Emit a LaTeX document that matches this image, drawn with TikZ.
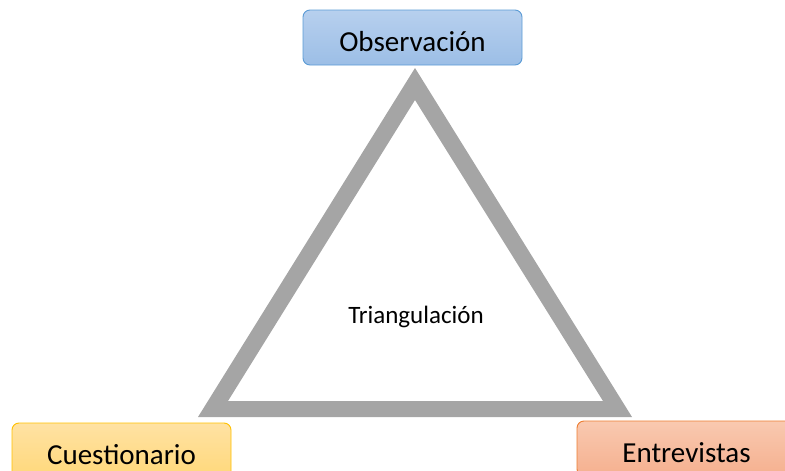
\documentclass[tikz,border=0pt]{standalone}
\usepackage{fontspec}
\setmainfont{Carlito}
\usepackage{tikz}
\usetikzlibrary{positioning}

\definecolor{triGray}{HTML}{A5A5A5}
\definecolor{blueTop}{HTML}{B7D0EE}
\definecolor{blueBot}{HTML}{9CBEE6}
\definecolor{blueLine}{HTML}{5B9BD5}
\definecolor{yellowTop}{HTML}{FFE2A3}
\definecolor{yellowBot}{HTML}{FFD87A}
\definecolor{yellowLine}{HTML}{FFC000}
\definecolor{orangeTop}{HTML}{F9C9B0}
\definecolor{orangeBot}{HTML}{F5B08F}
\definecolor{orangeLine}{HTML}{ED7D31}

\begin{document}
\begin{tikzpicture}[
  x=1pt, y=-1pt,
  every node/.style={align=center},
  method/.style={rectangle, draw, rounded corners=7pt, line width=0.9pt,
    minimum width=219pt, minimum height=55pt, inner sep=0pt,
    font=\fontsize{29}{32}\selectfont, text height=28pt, text depth=0pt},
  obsbox/.style={method, draw=blueLine, top color=blueTop, bottom color=blueBot},
  cuesbox/.style={method, draw=yellowLine, top color=yellowTop, bottom color=yellowBot},
  entrbox/.style={method, draw=orangeLine, top color=orangeTop, bottom color=orangeBot},
  center label/.style={font=\fontsize{25}{28}\selectfont}
]

\useasboundingbox (0,0) rectangle (785,471);
\clip (0,0) rectangle (785,471);

% triangle frame
\fill[triGray, even odd rule]
  (415,68) -- (198,417) -- (632,417) -- cycle
  (415,100) -- (228,401) -- (603,401) -- cycle;

\node[center label, anchor=base] (tri) at (416,323) {Triangulación};

% the three methods
\node[obsbox] (obs) at (412.5,37.5) {Observación};
\node[cuesbox] (cues) at (121.5,450.5) {Cuestionario};
\node[entrbox] (entr) at (686.5,448.5) {Entrevistas};

\end{tikzpicture}
\end{document}
